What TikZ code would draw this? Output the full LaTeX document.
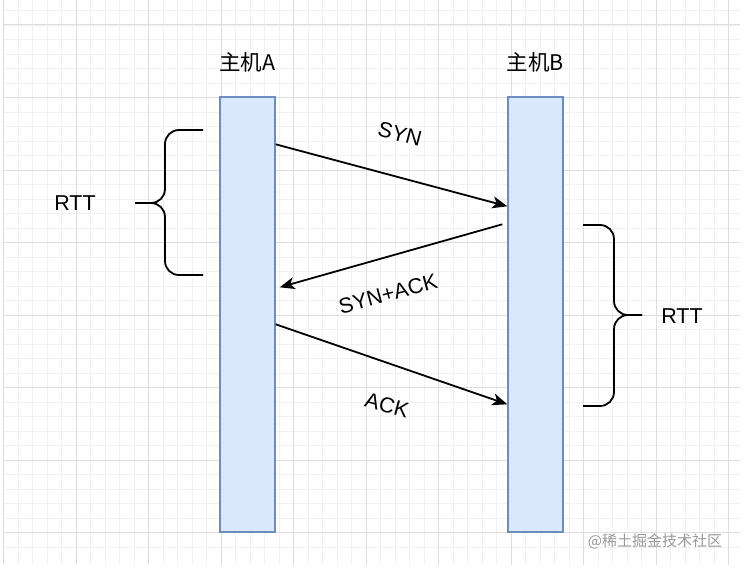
\documentclass[tikz,border=0pt]{standalone}
\usepackage{fontspec}
\setmainfont{Liberation Sans}
\newfontfamily\cjk{Noto Sans CJK SC}
\usetikzlibrary{arrows.meta}

\definecolor{hostfill}{HTML}{DAE8FC}
\definecolor{hostline}{HTML}{6C8EBF}
\definecolor{gridmajor}{HTML}{DEDEDE}
\definecolor{gridminor}{HTML}{F1F1F1}

\tikzset{
  host/.style={draw=hostline,fill=hostfill,line width=1.4pt,minimum width=55pt,minimum height=435pt,inner sep=0pt},
  hostname/.style={font=\cjk\fontsize{21.5}{21.5}\selectfont},
  msg/.style={-{Stealth[length=15pt,width=12pt,inset=4pt]},line width=1.8pt},
  msglabel/.style={font=\fontsize{21.5}{21.5}\selectfont},
  brace/.style={line width=1.8pt,rounded corners=14pt}
}

\begin{document}
\begin{tikzpicture}[x=1pt,y=-1pt]
\useasboundingbox (0,0) rectangle (749,575);
\fill[white] (0,0) rectangle (749,575);

% grid
\foreach \x in {0,...,50} \draw[gridminor,line width=0.8pt] (3.5+14.5*\x,0) -- (3.5+14.5*\x,565);
\foreach \y in {0,...,38} \draw[gridminor,line width=0.8pt] (3.5,-4+14.5*\y) -- (740,-4+14.5*\y);
\foreach \x in {0,...,10} \draw[gridmajor,line width=1pt] (3.5+72.5*\x,0) -- (3.5+72.5*\x,565);
\foreach \y in {0,...,7} \draw[gridmajor,line width=1pt] (3.5,25+72.5*\y) -- (740,25+72.5*\y);

%%%
\node[host] (hostA) at (247.5,314.5) {};
\node[hostname] (nameA) at (247.5,62) {主机A};

\node[host] (hostB) at (535.5,314.5) {};
\node[hostname] (nameB) at (535.5,62) {主机B};

%%%
\coordinate (synS) at ([yshift=-48pt]hostA.north east);
\coordinate (synE) at ([yshift=-110pt]hostB.north west);
\draw[msg] (synS) -- (synE);
\node[msglabel,rotate=-15] (synL) at (400,134) {SYN};

\coordinate (sackS) at ([xshift=-5pt,yshift=-128pt]hostB.north west);
\coordinate (sackE) at ([xshift=4pt,yshift=-191pt]hostA.north east);
\draw[msg] (sackS) -- (sackE);
\node[msglabel,rotate=15] (sackL) at (388,294) {SYN+ACK};

\coordinate (ackS) at ([yshift=-228pt]hostA.north east);
\coordinate (ackE) at ([yshift=-308pt]hostB.north west);
\draw[msg] (ackS) -- (ackE);
\node[msglabel,rotate=-15] (ackL) at (387,405) {ACK};

%%%
\coordinate (braceAt) at (203,130);
\coordinate (braceAb) at (203,275);
\coordinate (braceAm) at (135,203);
\draw[brace] (braceAt) -- (165,130) -- (165,203) -- (braceAm);
\draw[brace] (braceAb) -- (165,275) -- (165,203) -- (braceAm);
\node[msglabel] (rttA) at (75,203) {RTT};

\coordinate (braceBt) at (583,225);
\coordinate (braceBb) at (583,406);
\coordinate (braceBm) at (642,315);
\draw[brace] (braceBt) -- (614,225) -- (614,315) -- (braceBm);
\draw[brace] (braceBb) -- (614,406) -- (614,315) -- (braceBm);
\node[msglabel] (rttB) at (682,316) {RTT};

%%%
\node[text=black!40,font=\cjk\fontsize{15}{15}\selectfont] (mark) at (655,541) {@稀土掘金技术社区};
\end{tikzpicture}
\end{document}
